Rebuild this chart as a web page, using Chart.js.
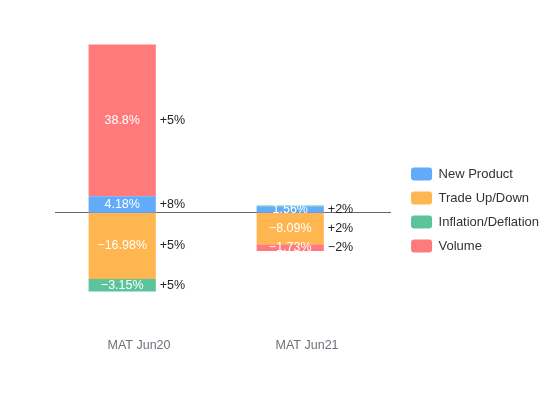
<!DOCTYPE html>
<html>
<head>
<meta charset="utf-8">
<script src="https://cdn.jsdelivr.net/npm/chart.js@4.4.1/dist/chart.umd.min.js"></script>
<style>
  html, body { margin: 0; padding: 0; background: #ffffff; }
  #wrap { width: 550px; height: 420px; }
</style>
</head>
<body>
<div id="wrap"><canvas id="c" width="550" height="420"></canvas></div>
<script>
const categories = ['MAT Jun20', 'MAT Jun21'];
const seriesNames = ['New Product', 'Trade Up/Down', 'Inflation/Deflation', 'Volume'];
const newProduct = [4.18, 1.56];
const tradeUpDown = [-16.98, -8.09];
const inflation = [-3.15, 0.25];
const volume = [38.8, -1.73];
const newProductChange = ['+8%', '+2%'];
const tradeUpDownChange = ['+5%', '+2%'];
const inflationChange = ['+5%', ''];
const volumeChange = ['+5%', '\u22122%'];
const yMin = -30;
const yMax = 50;

const colors = ['#62aafa', '#ffb650', '#5cc49c', '#ff7b7b'];
const FONT = '"Liberation Sans", Arial, sans-serif';

function fmt(v) {
  return (v < 0 ? '\u2212' : '') + String(Math.abs(v)) + '%';
}

const seriesData = [newProduct, tradeUpDown, inflation, volume];
const seriesChange = [newProductChange, tradeUpDownChange, inflationChange, volumeChange];

const datasets = seriesNames.map((name, i) => ({
  label: name,
  data: seriesData[i],
  changes: seriesChange[i],
  backgroundColor: colors[i],
  stack: 'main',
  categoryPercentage: 0.4,
  barPercentage: 2,
  borderWidth: 0
}));
// empty companion stack that reserves the space to the right of the bars
datasets.push({
  label: '',
  data: categories.map(() => null),
  stack: 'space',
  categoryPercentage: 0.4,
  barPercentage: 2,
  backgroundColor: 'rgba(0,0,0,0)'
});

const zeroLinePlugin = {
  id: 'zeroLine',
  beforeDatasetsDraw(chart) {
    const {ctx, chartArea} = chart;
    const y = Math.round(chart.scales.y.getPixelForValue(0)) - 0.5;
    ctx.save();
    ctx.strokeStyle = '#666666';
    ctx.lineWidth = 1;
    ctx.beginPath();
    ctx.moveTo(chartArea.left, y);
    ctx.lineTo(chartArea.right, y);
    ctx.stroke();
    ctx.restore();
  }
};

const labelPlugin = {
  id: 'barLabels',
  afterDatasetsDraw(chart) {
    const ctx = chart.ctx;
    ctx.save();
    ctx.font = '12.5px ' + FONT;
    ctx.textBaseline = 'middle';
    chart.data.datasets.forEach((ds, di) => {
      if (!ds.changes) return;
      const meta = chart.getDatasetMeta(di);
      if (meta.hidden) return;
      meta.data.forEach((el, i) => {
        const v = ds.data[i];
        if (v === null || v === undefined) return;
        const mid = (el.y + el.base) / 2;
        if (Math.abs(el.y - el.base) >= 4) {
          ctx.fillStyle = '#ffffff';
          ctx.textAlign = 'center';
          ctx.fillText(fmt(v), el.x, mid);
        }
        if (ds.changes[i]) {
          ctx.fillStyle = '#222222';
          ctx.textAlign = 'left';
          ctx.fillText(ds.changes[i], el.x + el.width / 2 + 4, mid);
        }
      });
    });
    ctx.restore();
  }
};

new Chart(document.getElementById('c'), {
  type: 'bar',
  data: { labels: categories, datasets: datasets },
  options: {
    responsive: false,
    animation: false,
    devicePixelRatio: 1,
    layout: { padding: { left: 55, right: 1, top: 17, bottom: 17 } },
    plugins: {
      tooltip: { enabled: false },
      legend: {
        position: 'right',
        align: 'center',
        labels: {
          boxWidth: 21,
          boxHeight: 13,
          useBorderRadius: true,
          borderRadius: 3,
          padding: 11,
          color: '#333333',
          font: { family: FONT, size: 13 },
          filter: (item) => item.text !== ''
        }
      }
    },
    scales: {
      x: {
        stacked: true,
        grid: { display: false },
        border: { display: false },
        ticks: { color: '#6e7079', padding: 0, font: { family: FONT, size: 12.5 } },
        afterFit: (s) => { s.height = 73; }
      },
      y: {
        display: false,
        stacked: true,
        position: 'right',
        min: yMin,
        max: yMax,
        afterFit: (s) => { s.width = 9; }
      }
    }
  },
  plugins: [zeroLinePlugin, labelPlugin]
});
</script>
</body>
</html>
